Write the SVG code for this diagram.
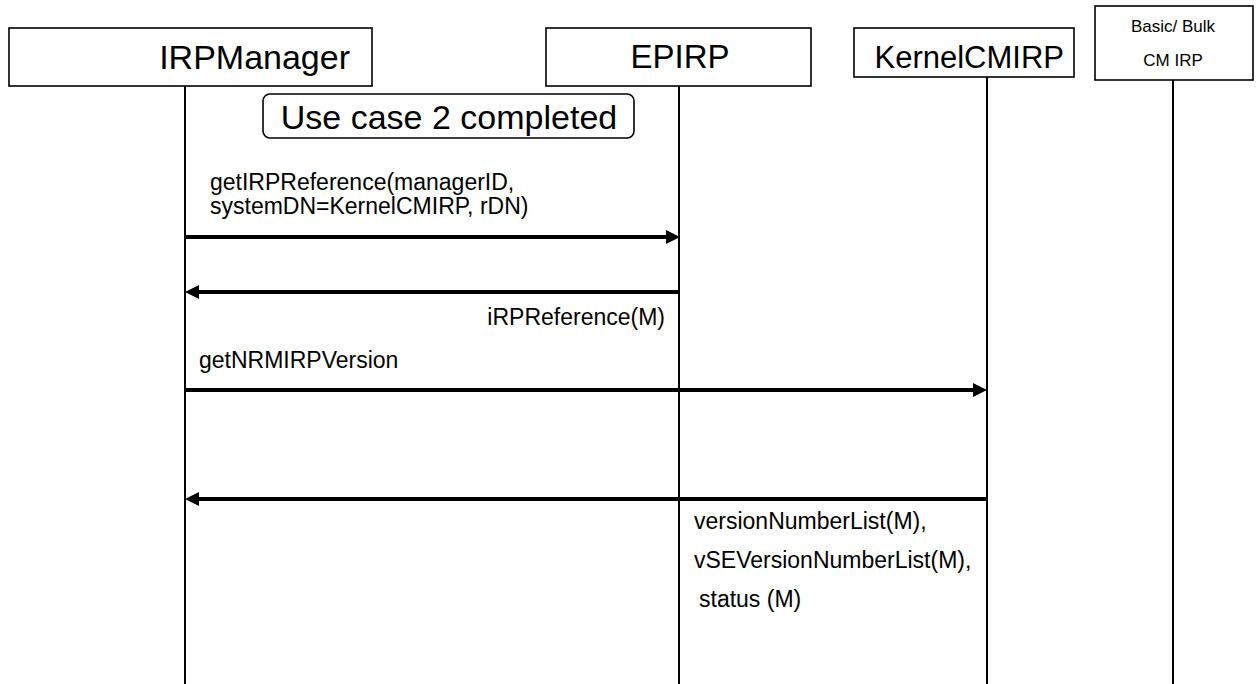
<svg xmlns="http://www.w3.org/2000/svg" width="1259" height="684" viewBox="0 0 1259 684">
  <style>
    .box { fill: #ffffff; stroke: #000000; stroke-width: 1.6; }
    .life { stroke: #000000; stroke-width: 2; fill: none; }
    .msg { stroke: #000000; stroke-width: 4; fill: none; marker-end: url(#head); }
    .title { font-family: "Liberation Sans", Arial, sans-serif; fill: #000000; }
    .label { font-family: "Liberation Sans", Arial, sans-serif; font-size: 23px; fill: #000000; }
  </style>
  <defs>
    <marker id="head" markerUnits="userSpaceOnUse" markerWidth="14" markerHeight="14" refX="0" refY="7" orient="auto">
      <path d="M0,0 L14,7 L0,14 z" fill="#000000"/>
    </marker>
  </defs>

  <rect width="1259" height="684" fill="#ffffff"/>

  <!-- lifelines -->
  <g id="lifelines">
    <line class="life" x1="185" y1="86" x2="185" y2="684"/>
    <line class="life" x1="679" y1="86" x2="679" y2="684"/>
    <line class="life" x1="987" y1="77" x2="987" y2="684"/>
    <line class="life" x1="1173" y1="80" x2="1173" y2="684"/>
  </g>

  <!-- participants -->
  <g id="irpmanager">
    <rect class="box" x="9" y="28" width="363" height="58"/>
    <text class="title" x="350" y="69" font-size="34" text-anchor="end">IRPManager</text>
  </g>
  <g id="epirp">
    <rect class="box" x="546" y="28" width="265" height="58"/>
    <text class="title" x="680" y="68" font-size="33" text-anchor="middle">EPIRP</text>
  </g>
  <g id="kernelcmirp">
    <rect class="box" x="854" y="28" width="220" height="49"/>
    <text class="title" x="1064" y="68" font-size="31" text-anchor="end">KernelCMIRP</text>
  </g>
  <g id="basicbulkcmirp">
    <rect class="box" x="1095" y="6" width="158" height="74"/>
    <text class="title" x="1173" y="32" font-size="17" text-anchor="middle">Basic/ Bulk</text>
    <text class="title" x="1173" y="66" font-size="17" text-anchor="middle">CM IRP</text>
  </g>

  <!-- state note -->
  <g id="usecase-note">
    <rect class="box" x="263" y="94" width="371" height="44" rx="7" ry="7"/>
    <text class="title" x="449" y="129" font-size="34" text-anchor="middle">Use case 2 completed</text>
  </g>

  <!-- messages -->
  <g id="connectors">
    <line class="msg" x1="185" y1="237" x2="666" y2="237"/>
    <line class="msg" x1="679" y1="292" x2="199" y2="292"/>
    <line class="msg" x1="185" y1="390" x2="973" y2="390"/>
    <line class="msg" x1="987" y1="499" x2="199" y2="499"/>
  </g>

  <!-- message labels -->
  <g id="labels">
    <text class="label" x="210" y="190">getIRPReference(managerID,</text>
    <text class="label" x="210" y="214">systemDN=KernelCMIRP, rDN)</text>
    <text class="label" x="665" y="325" text-anchor="end">iRPReference(M)</text>
    <text class="label" x="199" y="368">getNRMIRPVersion</text>
    <text class="label" x="694" y="529">versionNumberList(M),</text>
    <text class="label" x="694" y="568">vSEVersionNumberList(M),</text>
    <text class="label" x="699" y="607">status (M)</text>
  </g>
</svg>
